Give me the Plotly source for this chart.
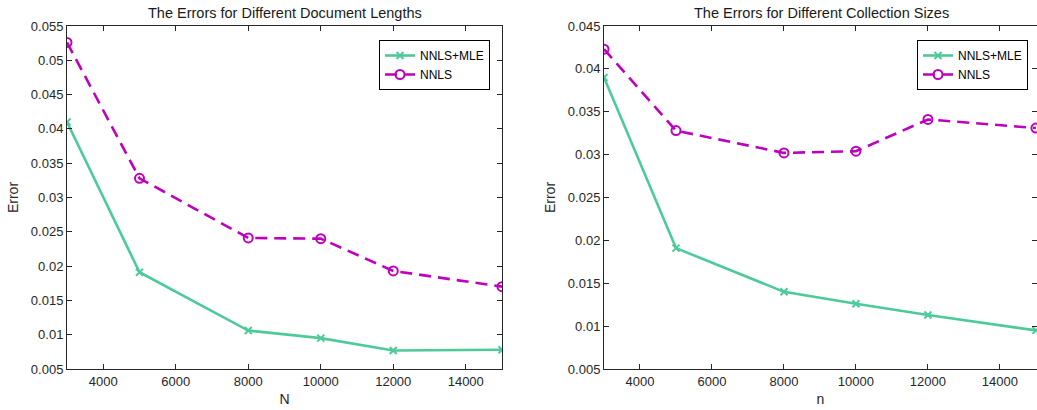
import plotly.graph_objects as go

x_len = [3000, 5000, 8000, 10000, 12000, 15000]
len_mle = [0.0410, 0.0191, 0.0106, 0.0095, 0.0077, 0.0078]
len_nnls = [0.0526, 0.0328, 0.0241, 0.0240, 0.0193, 0.0170]

x_size = [3000, 5000, 8000, 10000, 12000, 15000]
size_mle = [0.0390, 0.0191, 0.0140, 0.0126, 0.0113, 0.0095]
size_nnls = [0.0423, 0.0328, 0.0302, 0.0304, 0.0341, 0.0331]

x_ticks = [4000, 6000, 8000, 10000, 12000, 14000]
y_ticks_left = [0.005, 0.01, 0.015, 0.02, 0.025, 0.03, 0.035, 0.04, 0.045, 0.05, 0.055]
y_ticks_right = [0.005, 0.01, 0.015, 0.02, 0.025, 0.03, 0.035, 0.04, 0.045]

GREEN = "#4ccb99"
MAG = "#bf00bf"
FONT = "Liberation Sans, Arial, sans-serif"
TXT = "#262626"

W, H = 1037, 410
T, B = 26, 41
PH = H - T - B
fig = go.Figure()

def add(xv, yv, name, color, dash, symbol, msize, xa, ya, legend, lw=2.6):
    fig.add_trace(go.Scatter(
        x=xv, y=yv, name=name, mode="lines+markers",
        line=dict(color=color, width=lw, dash=dash),
        marker=dict(symbol=symbol, size=msize, color=color, line=dict(color=color, width=2)),
        xaxis=xa, yaxis=ya, legend=legend))

add(x_len, len_mle, "NNLS+MLE", GREEN, "solid", "x-thin-open", 7, "x", "y", "legend")
add(x_len, len_nnls, "NNLS", MAG, "12px,7px", "circle-open", 9, "x", "y", "legend")
add(x_size, size_mle, "NNLS+MLE", GREEN, "solid", "x-thin-open", 7, "x2", "y2", "legend2")
add(x_size, size_nnls, "NNLS", MAG, "12px,7px", "circle-open", 9, "x2", "y2", "legend2")

axcommon = dict(showline=True, linecolor=TXT, linewidth=1, mirror="ticks", ticks="inside",
                ticklen=5, tickcolor=TXT, showgrid=False, zeroline=False,
                tickfont=dict(family=FONT, size=13, color=TXT))

L0, L1 = 67 / W, 502 / W
R0, R1 = 604 / W, 1.0

fig.update_layout(
    width=W, height=H, margin=dict(l=0, r=0, t=T, b=B),
    paper_bgcolor="white", plot_bgcolor="white",
    font=dict(family=FONT, size=13, color=TXT),
    xaxis=dict(domain=[L0, L1], range=[3000, 15000], tickvals=x_ticks,
               ticktext=[str(v) for v in x_ticks], anchor="y",
               title=dict(text="N", font=dict(size=14), standoff=6), **axcommon),
    yaxis=dict(domain=[0, 1], range=[0.005, 0.055], tickvals=y_ticks_left,
               ticktext=[("%g" % v) for v in y_ticks_left], anchor="x",
               title=dict(text="Error", font=dict(size=14), standoff=8), **axcommon),
    xaxis2=dict(domain=[R0, R1], range=[3000, 15030], tickvals=x_ticks,
                ticktext=[str(v) for v in x_ticks], anchor="y2",
                title=dict(text="n", font=dict(size=14), standoff=6), **axcommon),
    yaxis2=dict(domain=[0, 1], range=[0.005, 0.045], tickvals=y_ticks_right,
                ticktext=[("%g" % v) for v in y_ticks_right], anchor="x2",
                title=dict(text="Error", font=dict(size=14), standoff=8), **axcommon),
    legend=dict(x=490 / W, y=1 - 14 / PH, xanchor="right", yanchor="top",
                bordercolor="#000000", borderwidth=1, bgcolor="white",
                font=dict(family=FONT, size=12, color="#000000"),
                tracegroupgap=0, itemwidth=30),
    legend2=dict(x=1028 / W, y=1 - 14 / PH, xanchor="right", yanchor="top",
                 bordercolor="#000000", borderwidth=1, bgcolor="white",
                 font=dict(family=FONT, size=12, color="#000000"),
                 tracegroupgap=0, itemwidth=30),
    showlegend=True,
    annotations=[
        dict(text="The Errors for Different Document Lengths", x=(L0 + L1) / 2, y=1 + 13 / PH,
             xref="paper", yref="paper", showarrow=False, xanchor="center", yanchor="middle",
             font=dict(family=FONT, size=14.5, color="#1a1a1a")),
        dict(text="The Errors for Different Collection Sizes", x=(R0 + 1038 / W) / 2, y=1 + 13 / PH,
             xref="paper", yref="paper", showarrow=False, xanchor="center", yanchor="middle",
             font=dict(family=FONT, size=14.5, color="#1a1a1a")),
    ],
)

fig.write_html("out.html")
